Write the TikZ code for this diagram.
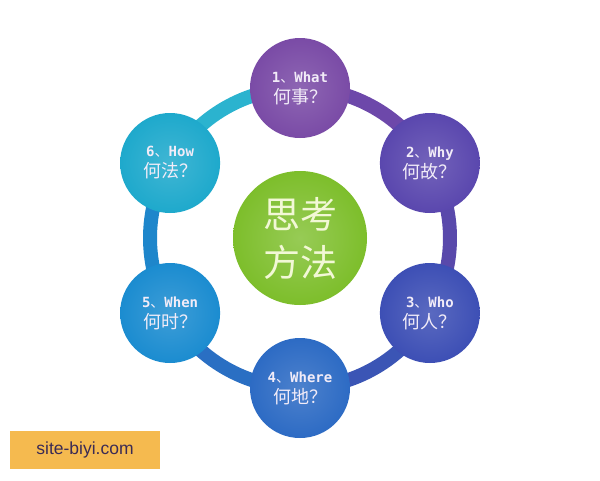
\documentclass[tikz,border=0pt]{standalone}
\usepackage{fontspec}
\setmainfont{Liberation Sans}
\newfontfamily\cjk{Noto Sans CJK SC}
\newfontfamily\mono{DejaVu Sans Mono}
\usetikzlibrary{backgrounds}
\definecolor{cA}{HTML}{7A4BA6}
\definecolor{cB}{HTML}{5A47AE}
\definecolor{cC}{HTML}{3D4FB5}
\definecolor{cD}{HTML}{2D6BC4}
\definecolor{cE}{HTML}{1B8CD0}
\definecolor{cF}{HTML}{1EA9CC}
\definecolor{rFA}{HTML}{2BB3CF}
\definecolor{rAB}{HTML}{6D48AA}
\definecolor{rBC}{HTML}{5949AB}
\definecolor{rCD}{HTML}{3B55B5}
\definecolor{rDE}{HTML}{2A6FC3}
\definecolor{rEF}{HTML}{1E86CB}
\definecolor{cgreen}{HTML}{7DBE2B}
\definecolor{ctxt}{HTML}{F2ECF8}
\definecolor{gtxt}{HTML}{F2F8D6}
\definecolor{tagfill}{HTML}{F5BA4F}
\definecolor{tagtxt}{HTML}{3B2B55}
\newcommand{\qlabel}[3]{{\mono\bfseries #1}{\cjk 、}{\mono\bfseries #2}\\{\cjk\fontsize{18}{21}\selectfont #3}}
\begin{document}
\begin{tikzpicture}[x=1pt,y=-1pt,
  qnode/.style={circle, minimum size=100pt, inner sep=0pt, align=center,
    text=ctxt, shading=radial, inner color=#1!85!white, outer color=#1,
    font=\fontsize{14}{21}\selectfont},
  hub/.style={circle, minimum size=134pt, inner sep=0pt, align=center,
    text=gtxt, shading=radial, inner color=cgreen!80!white, outer color=cgreen,
    font=\cjk\fontsize{37}{48}\selectfont},
  ring/.style={line width=14pt, draw=#1}]
\useasboundingbox (0,0) rectangle (600,480);
\begin{scope}[on background layer]
\fill[white] (0,0) rectangle (600,480);
\end{scope}
\node[hub] (hub) at (300,238) {思考\\方法};
\node[qnode=cA] (n1) at (300,88) {\qlabel{1}{What}{何事？}};
\node[qnode=cB] (n2) at (429.9,163) {\qlabel{2}{Why}{何故？}};
\node[qnode=cC] (n3) at (429.9,313) {\qlabel{3}{Who}{何人？}};
\node[qnode=cD] (n4) at (300,388) {\qlabel{4}{Where}{何地？}};
\node[qnode=cE] (n5) at (170.1,313) {\qlabel{5}{When}{何时？}};
\node[qnode=cF] (n6) at (170.1,163) {\qlabel{6}{How}{何法？}};
\begin{scope}[on background layer]
\draw[ring=rAB] (n1.center) arc[start angle=-90, end angle=-30, radius=150];
\draw[ring=rBC] (n2.center) arc[start angle=-30, end angle=30, radius=150];
\draw[ring=rCD] (n3.center) arc[start angle=30, end angle=90, radius=150];
\draw[ring=rDE] (n4.center) arc[start angle=90, end angle=150, radius=150];
\draw[ring=rEF] (n5.center) arc[start angle=150, end angle=210, radius=150];
\draw[ring=rFA] (n6.center) arc[start angle=210, end angle=270, radius=150];
\end{scope}
\node[fill=tagfill, minimum width=150pt, minimum height=38pt, inner sep=0pt,
  text=tagtxt, font=\fontsize{17.5}{20}\selectfont] (tag) at (85,450) {site-biyi.com};
\end{tikzpicture}
\end{document}
